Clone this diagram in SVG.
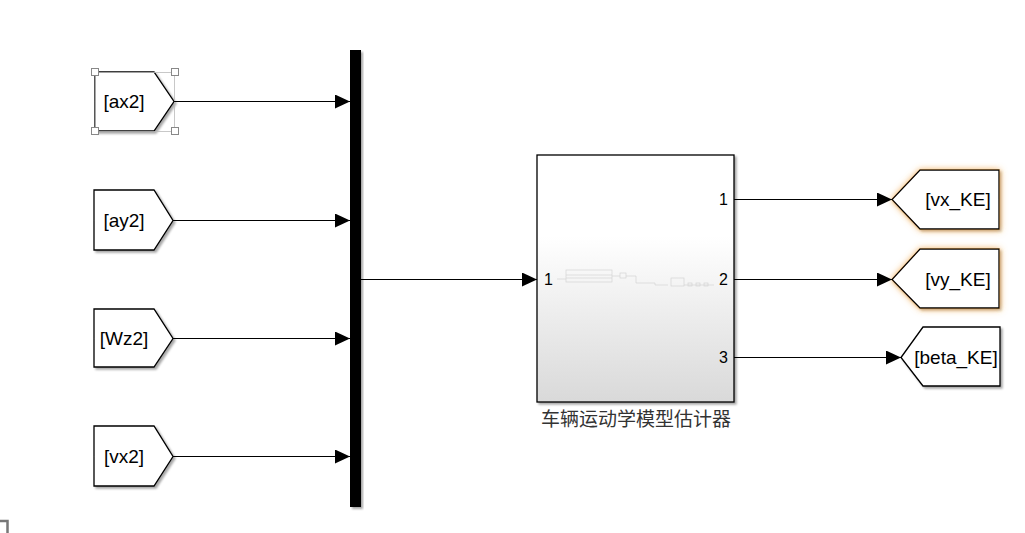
<svg xmlns="http://www.w3.org/2000/svg" width="1025" height="533" viewBox="0 0 1025 533">
<defs>
<linearGradient id="sub" x1="0" y1="0" x2="0" y2="1">
<stop offset="0" stop-color="#ffffff"/>
<stop offset="0.33" stop-color="#ffffff"/>
<stop offset="1" stop-color="#d9d9d9"/>
</linearGradient>
<filter id="sh" x="-20%" y="-20%" width="140%" height="140%">
<feDropShadow dx="2" dy="2" stdDeviation="1.2" flood-color="#000" flood-opacity="0.35"/>
</filter>
<filter id="glow" x="-30%" y="-30%" width="160%" height="160%">
<feDropShadow dx="2" dy="2" stdDeviation="1.2" flood-color="#000" flood-opacity="0.3"/>
<feDropShadow dx="0" dy="0" stdDeviation="3" flood-color="#f0a040" flood-opacity="0.8"/>
</filter>
<marker id="ar" markerWidth="16" markerHeight="14" refX="15" refY="7" orient="auto" markerUnits="userSpaceOnUse">
<path d="M0,0 L15,7 L0,14 Z" fill="#000"/>
</marker>
</defs>
<style>
.tag{fill:#fff;stroke:#000;stroke-width:1.3}
.lbl{font-family:"Liberation Sans",Arial,sans-serif;font-size:19px;fill:#000}
.port{font-family:"Liberation Sans",Arial,sans-serif;font-size:16px;fill:#000}
.wire{stroke:#000;stroke-width:1.2;fill:none}
.hdl{fill:#fff;stroke:#888;stroke-width:1}
</style>
<rect width="1025" height="533" fill="#fff"/>

<g id="from_ax2">
<path class="tag" filter="url(#sh)" d="M95,72 H154 L174,101.5 L154,131 H95 Z"/>
<text class="lbl" x="124" y="108" text-anchor="middle">[ax2]</text>
<rect x="95.5" y="72.5" width="79" height="59" fill="none" stroke="#bbb" stroke-width="0.8"/>
<rect class="hdl" x="91.5" y="68.5" width="7" height="7"/>
<rect class="hdl" x="171.5" y="68.5" width="7" height="7"/>
<rect class="hdl" x="91.5" y="127.5" width="7" height="7"/>
<rect class="hdl" x="171.5" y="127.5" width="7" height="7"/>
</g>
<g id="from_ay2">
<path class="tag" filter="url(#sh)" d="M94,190 H154 L173,220.5 L154,250 H94 Z"/>
<text class="lbl" x="124" y="227" text-anchor="middle">[ay2]</text>
</g>
<g id="from_Wz2">
<path class="tag" filter="url(#sh)" d="M94,309 H154 L173,338.5 L154,367 H94 Z"/>
<text class="lbl" x="124" y="345" text-anchor="middle">[Wz2]</text>
</g>
<g id="from_vx2">
<path class="tag" filter="url(#sh)" d="M94,426 H154 L173,456.5 L154,486 H94 Z"/>
<text class="lbl" x="124" y="463" text-anchor="middle">[vx2]</text>
</g>

<g id="mux">
<rect x="350" y="50" width="11" height="457" fill="#000" filter="url(#sh)"/>
</g>

<g id="subsystem">
<rect x="537" y="155" width="197" height="247" fill="url(#sub)" stroke="#000" stroke-width="1.3" filter="url(#sh)"/>
<g stroke="#d4d4d4" stroke-width="0.7" fill="none">
<path d="M557,279 H566"/>
<rect x="566" y="270" width="46" height="12"/>
<path d="M566,275 H612 M566,278 H612"/>
<path d="M612,276 H620"/>
<rect x="620" y="273" width="6" height="5"/>
<path d="M626,276 H636 V283 H655 V285 H668"/>
<rect x="671" y="278" width="13" height="8"/>
<path d="M684,285 H714"/>
<rect x="688" y="283" width="4" height="3"/>
<rect x="696" y="283" width="4" height="3"/>
<rect x="704" y="283" width="4" height="3"/>
</g>
<text class="port" x="544" y="285">1</text>
<text class="port" x="728" y="205" text-anchor="end">1</text>
<text class="port" x="728" y="285" text-anchor="end">2</text>
<text class="port" x="728" y="363" text-anchor="end">3</text>
<text x="636" y="426" text-anchor="middle" font-family="'Noto Sans CJK SC','Liberation Sans',sans-serif" font-size="19" fill="#333">车辆运动学模型估计器</text>
</g>

<g id="goto_vx_KE">
<path class="tag" filter="url(#glow)" d="M892,199.5 L920,170 H999 V229 H920 Z"/>
<text class="lbl" x="958" y="206" text-anchor="middle">[vx_KE]</text>
</g>
<g id="goto_vy_KE">
<path class="tag" filter="url(#glow)" d="M892,279.5 L920,249 H999 V308 H920 Z"/>
<text class="lbl" x="958" y="286" text-anchor="middle">[vy_KE]</text>
</g>
<g id="goto_beta_KE">
<path class="tag" filter="url(#sh)" d="M901,357.5 L923,327 H1000 V386 H923 Z"/>
<text class="lbl" x="956" y="364" text-anchor="middle">[beta_KE]</text>
</g>

<g id="connectors">
<path class="wire" d="M174,101.5 H350" marker-end="url(#ar)"/>
<path class="wire" d="M173,220.5 H350" marker-end="url(#ar)"/>
<path class="wire" d="M173,338.5 H350" marker-end="url(#ar)"/>
<path class="wire" d="M173,456.5 H350" marker-end="url(#ar)"/>
<path class="wire" d="M361,279.5 H537" marker-end="url(#ar)"/>
<path class="wire" d="M734,199.5 H892" marker-end="url(#ar)"/>
<path class="wire" d="M734,279.5 H892" marker-end="url(#ar)"/>
<path class="wire" d="M734,357.5 H901" marker-end="url(#ar)"/>
</g>

<path d="M0,521 H7.5 V533" fill="none" stroke="#777" stroke-width="2.5"/>
</svg>
